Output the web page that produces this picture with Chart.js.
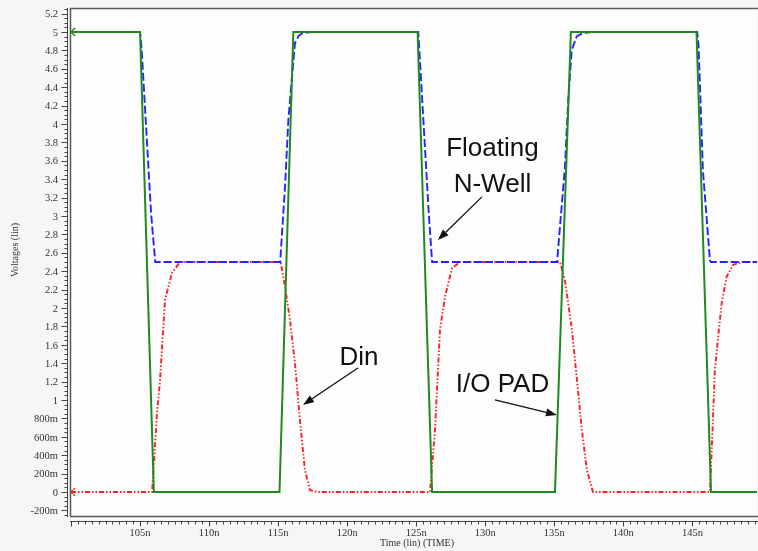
<!DOCTYPE html>
<html>
<head>
<meta charset="utf-8">
<script src="https://cdn.jsdelivr.net/npm/chart.js@4/dist/chart.umd.min.js"></script>
<style>
  html, body { margin: 0; padding: 0; background: #f6f6f6; }
  #wrap { position: relative; width: 758px; height: 551px; }
</style>
</head>
<body>
<div id="wrap"><canvas id="chart" width="758" height="551"></canvas></div>
<script>
// time in ns, voltage in V
const padT = [100, 105.0, 106.0, 115.1, 116.1, 125.1, 126.15, 135.05, 136.2, 145.3, 146.35, 149.68];
const padV = [5, 5, 0, 0, 5, 5, 0, 0, 5, 5, 0, 0];

const wellT = [100, 105.0, 105.1, 105.8, 106.1,
  115.15, 115.5, 115.74, 116.05, 116.22, 116.5, 116.8, 117.67,
  125.15, 125.9, 126.15,
  135.2, 135.77, 136.01, 136.26, 136.62, 137.1, 137.8,
  145.35, 145.45, 145.76, 146.27, 146.34, 149.68];
const wellV = [5, 5, 4.85, 3.03, 2.5,
  2.5, 3.32, 4.04, 4.59, 4.88, 4.96, 4.99, 5,
  5, 3.05, 2.5,
  2.5, 3.53, 4.26, 4.8, 4.95, 4.99, 5,
  5, 4.84, 3.5, 2.52, 2.5, 2.5];

const dinT = [100, 105.87, 106.01, 106.23, 106.44, 106.81, 107.31, 107.89,
  115.18, 115.5, 115.86, 116.22, 116.58, 116.94, 117.31, 117.89,
  126.0, 126.36, 126.72, 127.08, 127.59, 128.17,
  135.41, 135.77, 136.28, 136.64, 137.0, 137.36, 137.8,
  146.27, 146.39, 146.63, 146.87, 147.12, 147.48, 147.96, 148.66, 149.68];
const dinV = [0, 0, 0.32, 0.86, 1.2, 2.09, 2.38, 2.5,
  2.5, 2.23, 1.87, 1.4, 0.78, 0.24, 0.02, 0,
  0, 0.67, 1.76, 2.12, 2.43, 2.5,
  2.5, 2.3, 1.76, 1.22, 0.67, 0.24, 0,
  0, 0.42, 1.33, 1.69, 2.05, 2.34, 2.47, 2.5, 2.5];

const xLabels = [105, 110, 115, 120, 125, 130, 135, 140, 145];

// callouts, placed in data units (ns, V)
const notes = [
  { lines: ["Floating", "N-Well"], t: 130.52, v: [3.652, 3.26] },
  { lines: ["Din"], t: 120.85, v: [1.38] },
  { lines: ["I/O PAD"], t: 131.25, v: [1.087] },
];
const arrows = [
  { from: [129.76, 3.207], to: [126.57, 2.739] },
  { from: [120.78, 1.348], to: [116.8, 0.946] },
  { from: [130.7, 1.0], to: [135.19, 0.837] },
];

const GREEN = "#1f8a1f";
const BLUE = "#2424ff";
const RED = "#ff2020";

function toPoints(ts, vs) {
  return ts.map((t, i) => ({ x: t, y: vs[i] }));
}

function chevron(color, dash) {
  const c = document.createElement("canvas");
  c.width = 14;
  c.height = 12;
  const g = c.getContext("2d");
  g.strokeStyle = color;
  g.lineWidth = 1.5;
  if (dash) g.setLineDash(dash);
  g.beginPath();
  g.moveTo(11, 2);
  g.lineTo(7, 6);
  g.lineTo(11, 10);
  g.stroke();
  return c;
}

function fmtVolt(v) {
  const r = Math.round(v * 100) / 100;
  if (r === 0) return "0";
  if (Math.abs(r) < 1) return Math.round(r * 1000) + "m";
  return String(r);
}

const decor = {
  id: "decor",
  beforeDraw(chart) {
    const { ctx, chartArea: a } = chart;
    ctx.save();
    ctx.fillStyle = "#f6f6f6";
    ctx.fillRect(0, 0, chart.width, chart.height);
    ctx.fillStyle = "#fdfdfd";
    ctx.fillRect(a.left, a.top, a.right - a.left, a.bottom - a.top);
    ctx.restore();
  },
  afterDraw(chart) {
    const { ctx, chartArea: a, scales } = chart;
    const x = scales.x, y = scales.y;
    ctx.save();

    // frame
    ctx.strokeStyle = "#5a5a5a";
    ctx.lineWidth = 1.5;
    ctx.beginPath();
    ctx.moveTo(chart.width, a.top + 0.5);
    ctx.lineTo(a.left - 0.5, a.top + 0.5);
    ctx.lineTo(a.left - 0.5, a.bottom - 0.5);
    ctx.lineTo(chart.width, a.bottom - 0.5);
    ctx.stroke();

    // y axis line + ticks
    ctx.lineWidth = 1;
    ctx.strokeStyle = "#444";
    const yAxisX = a.left - 3.5;
    ctx.beginPath();
    ctx.moveTo(yAxisX, a.top);
    ctx.lineTo(yAxisX, a.bottom);
    for (let i = -5; i <= 105; i++) {
      const py = Math.round(y.getPixelForValue(i * 0.05)) + 0.5;
      const len = i % 4 === 0 ? 6 : 3;
      ctx.moveTo(yAxisX, py);
      ctx.lineTo(yAxisX - len, py);
    }
    ctx.stroke();

    ctx.fillStyle = "#333";
    ctx.font = '10.5px "Liberation Serif"';
    ctx.textAlign = "right";
    ctx.textBaseline = "middle";
    for (let i = -4; i <= 104; i += 4) {
      const v = i * 0.05;
      ctx.fillText(fmtVolt(v), 58, y.getPixelForValue(v) + 1);
    }

    // x axis line + ticks
    const xAxisY = a.bottom + 4.5;
    ctx.beginPath();
    ctx.moveTo(a.left - 1, xAxisY);
    ctx.lineTo(chart.width, xAxisY);
    for (let i = 0; i < 100; i++) {
      const t = 100 + i * 0.5;
      if (t > x.max) break;
      const px = Math.round(x.getPixelForValue(t)) + 0.5;
      const len = i % 10 === 0 ? 5 : 3;
      ctx.moveTo(px, xAxisY);
      ctx.lineTo(px, xAxisY + len);
    }
    ctx.stroke();

    ctx.textAlign = "center";
    xLabels.forEach((t) => {
      ctx.fillText(t + "n", x.getPixelForValue(t), 533);
    });
    ctx.font = '10px "Liberation Serif"';
    ctx.fillText("Time (lin) (TIME)", 417, 543);

    ctx.save();
    ctx.translate(15, 250);
    ctx.rotate(-Math.PI / 2);
    ctx.fillText("Voltages (lin)", 0, 0);
    ctx.restore();

    // callouts
    ctx.fillStyle = "#111";
    ctx.font = '26px "Liberation Sans"';
    ctx.textAlign = "center";
    ctx.textBaseline = "alphabetic";
    notes.forEach((n) => {
      n.lines.forEach((line, k) => {
        ctx.fillText(line, x.getPixelForValue(n.t), y.getPixelForValue(n.v[k]));
      });
    });

    ctx.strokeStyle = "#111";
    ctx.lineWidth = 1.3;
    arrows.forEach((ar) => {
      const x1 = x.getPixelForValue(ar.from[0]), y1 = y.getPixelForValue(ar.from[1]);
      const x2 = x.getPixelForValue(ar.to[0]), y2 = y.getPixelForValue(ar.to[1]);
      const ang = Math.atan2(y2 - y1, x2 - x1);
      const hl = 11, hw = 4;
      const bx = x2 - hl * Math.cos(ang), by = y2 - hl * Math.sin(ang);
      ctx.beginPath();
      ctx.moveTo(x1, y1);
      ctx.lineTo(bx, by);
      ctx.stroke();
      ctx.beginPath();
      ctx.moveTo(x2, y2);
      ctx.lineTo(bx + hw * Math.sin(ang), by - hw * Math.cos(ang));
      ctx.lineTo(bx - hw * Math.sin(ang), by + hw * Math.cos(ang));
      ctx.closePath();
      ctx.fill();
    });

    ctx.restore();
  },
};

const firstOnly = (r) => (ctx) => (ctx.dataIndex === 0 ? r : 0);

new Chart(document.getElementById("chart"), {
  type: "line",
  data: {
    datasets: [
      {
        label: "I/O PAD",
        data: toPoints(padT, padV),
        borderColor: GREEN,
        borderWidth: 2,
        pointRadius: firstOnly(5),
        pointStyle: chevron(GREEN),
        tension: 0,
      },
      {
        label: "Floating N-Well",
        data: toPoints(wellT, wellV),
        borderColor: BLUE,
        borderWidth: 1.9,
        borderDash: [8, 3],
        pointRadius: 0,
        tension: 0,
      },
      {
        label: "Din",
        data: toPoints(dinT, dinV),
        borderColor: RED,
        borderWidth: 1.9,
        borderDash: [5, 2, 1.5, 2, 1.5, 2],
        pointRadius: firstOnly(5),
        pointStyle: chevron(RED, [2, 1]),
        tension: 0,
      },
    ],
  },
  options: {
    responsive: false,
    animation: false,
    devicePixelRatio: 1,
    layout: { autoPadding: false, padding: { left: 71, top: 8, right: 1, bottom: 34 } },
    plugins: { legend: { display: false }, tooltip: { enabled: false } },
    scales: {
      x: { type: "linear", min: 100, max: 149.68, display: false },
      y: { type: "linear", min: -0.272, max: 5.26, display: false },
    },
  },
  plugins: [decor],
});
</script>
</body>
</html>
